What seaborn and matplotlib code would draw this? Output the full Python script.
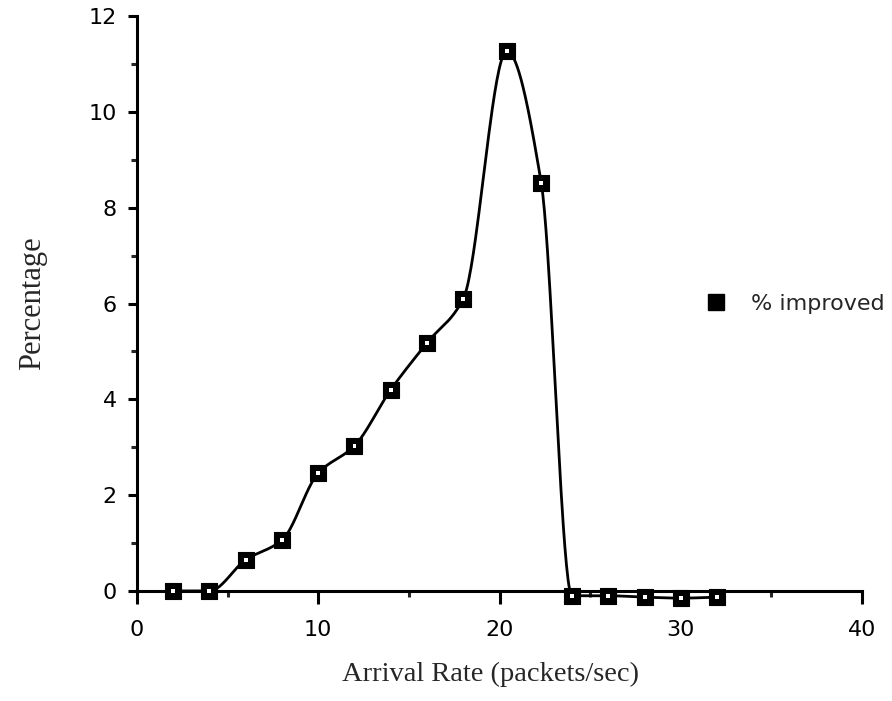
import numpy as np
import matplotlib
matplotlib.use("Agg")
import matplotlib.pyplot as plt
from matplotlib.lines import Line2D
from matplotlib.ticker import MultipleLocator
import seaborn as sns
import pandas as pd

# Measured improvement vs. arrival rate
arrival_rate = [2, 4, 6, 8, 10, 12, 14, 16, 18, 20.4, 22.3, 24, 26, 28, 30, 32]
pct_improved = [0.0, 0.0, 0.65, 1.06, 2.46, 3.03, 4.20, 5.18, 6.10, 11.27, 8.52,
                -0.10, -0.10, -0.13, -0.15, -0.13]

x_ticks = [0, 10, 20, 30, 40]
y_ticks = [0, 2, 4, 6, 8, 10, 12]

df = pd.DataFrame({"rate": arrival_rate, "pct": pct_improved})


def monotone_curve(xs, ys, n=40):
    """Shape-preserving (Fritsch-Carlson) cubic through the points."""
    x = np.asarray(xs, float)
    y = np.asarray(ys, float)
    h = np.diff(x)
    d = np.diff(y) / h
    m = np.zeros_like(y)
    for k in range(1, len(x) - 1):
        if d[k - 1] * d[k] > 0:
            w1 = 2 * h[k] + h[k - 1]
            w2 = h[k] + 2 * h[k - 1]
            m[k] = (w1 + w2) / (w1 / d[k - 1] + w2 / d[k])
    m[0], m[-1] = d[0], d[-1]
    px, py = [], []
    for k in range(len(x) - 1):
        t = np.linspace(0, 1, n)
        h00 = 2 * t**3 - 3 * t**2 + 1
        h10 = t**3 - 2 * t**2 + t
        h01 = -2 * t**3 + 3 * t**2
        h11 = t**3 - t**2
        seg = h00 * y[k] + h10 * h[k] * m[k] + h01 * y[k + 1] + h11 * h[k] * m[k + 1]
        px.append(x[k] + t * h[k])
        py.append(seg)
    return np.concatenate(px), np.concatenate(py)


sns.set_style("ticks")
plt.rcParams["font.family"] = ["DejaVu Sans"]

fig = plt.figure(figsize=(8.92, 7.01), dpi=100)
ax = fig.add_axes([0.1535, 0.157, 0.8130, 0.820])

cx, cy = monotone_curve(df["rate"].values, df["pct"].values)
ax.plot(cx, cy, color="black", lw=2.0, clip_on=False, zorder=3,
        solid_capstyle="round")

sns.scatterplot(data=df, x="rate", y="pct", ax=ax, marker="s", s=130,
                color="black", edgecolor="black", linewidth=0.8, zorder=4,
                clip_on=False, legend=False)
sns.scatterplot(data=df, x="rate", y="pct", ax=ax, marker="s", s=8,
                color="white", edgecolor="none", zorder=5, clip_on=False,
                legend=False)

ax.set_xlim(0, 40)
ax.set_ylim(0, 12)
ax.set_xticks(x_ticks)
ax.set_yticks(y_ticks)
ax.xaxis.set_minor_locator(MultipleLocator(5))
ax.yaxis.set_minor_locator(MultipleLocator(1))

for side in ("top", "right"):
    ax.spines[side].set_visible(False)
for side in ("left", "bottom"):
    ax.spines[side].set_linewidth(2.2)
    ax.spines[side].set_color("black")

ax.tick_params(axis="x", which="major", direction="out", length=9, width=2.2,
               labelsize=16, pad=12, colors="black")
ax.tick_params(axis="x", which="minor", direction="out", length=4.5, width=2.2)
ax.tick_params(axis="y", which="major", direction="out", length=6.5, width=2.2,
               labelsize=16, pad=8, colors="black")
ax.tick_params(axis="y", which="minor", direction="out", length=4, width=2.2)
for lbl in ax.get_xticklabels() + ax.get_yticklabels():
    lbl.set_fontweight("normal")

serif = ["Liberation Serif", "DejaVu Serif"]
ax.set_xlabel("Arrival Rate (packets/sec)", family=serif, fontsize=20.5)
ax.xaxis.set_label_coords(0.487, -0.124)
ax.set_ylabel("Percentage", family=serif, fontsize=22, labelpad=30)

handle = Line2D([], [], linestyle="none", marker="s", markersize=11,
                markerfacecolor="black", markeredgecolor="black")
ax.legend([handle], ["% improved"], loc="center left",
          bbox_to_anchor=(0.755, 0.5), frameon=False,
          prop={"family": "DejaVu Sans", "size": 16, "weight": "normal"},
          handletextpad=1.1, handlelength=1.0)

fig.savefig("out.png", dpi=100, facecolor="white")
